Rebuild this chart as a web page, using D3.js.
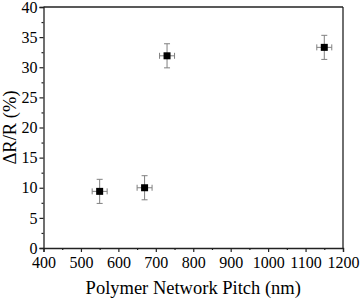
<!DOCTYPE html>
<html>
<head>
<meta charset="utf-8">
<script src="https://cdn.jsdelivr.net/npm/d3@7"></script>
<style>
  body { margin: 0; background: #fff; }
</style>
</head>
<body>
<div id="vis"></div>
<script>
// data
const pitch = [550, 670, 730, 1150];
const pitchErr = [20, 20, 20, 20];
const deltaR = [9.4, 10.0, 31.9, 33.3];
const deltaRErr = [2, 2, 2, 2];

const xTicks = [400, 500, 600, 700, 800, 900, 1000, 1100, 1200];
const yTicks = [0, 5, 10, 15, 20, 25, 30, 35, 40];

let points = pitch.map((p, i) => ({x: p, xe: pitchErr[i], y: deltaR[i], ye: deltaRErr[i]}));

let margin = {top: 7, right: 17, bottom: 53, left: 43.5};
let width = 360 - margin.left - margin.right,
    height = 301 - margin.top - margin.bottom;

let svg = d3.select('#vis')
    .append('svg')
    .attr('width', 360)
    .attr('height', 301);

let g = svg.append('g')
    .attr('transform', 'translate(' + margin.left + ',' + margin.top + ')');

let xScale = d3.scaleLinear().domain([400, 1200]).range([0, width]);
let yScale = d3.scaleLinear().domain([0, 40]).range([height, 0]);

// minor ticks half way
let xMinor = d3.range(450, 1200, 100);
let yMinor = d3.range(2.5, 40, 5);

g.append('g')
    .attr('transform', 'translate(0,' + height + ')')
    .call(d3.axisBottom(xScale).tickValues(xTicks).tickSize(4).tickPadding(4.5).tickFormat(d3.format('d')));
g.append('g')
    .attr('transform', 'translate(0,' + height + ')')
    .call(d3.axisBottom(xScale).tickValues(xMinor).tickSize(2).tickFormat(''))
    .select('.domain').remove();

g.append('g')
    .call(d3.axisLeft(yScale).tickValues(yTicks).tickSize(4).tickPadding(2));
g.append('g')
    .call(d3.axisLeft(yScale).tickValues(yMinor).tickSize(2).tickFormat(''))
    .select('.domain').remove();

g.selectAll('.tick text').style('font-size', '16px').attr('fill', '#000');
g.selectAll('.tick line').attr('stroke', '#222').attr('stroke-width', 1.2);
g.selectAll('.domain').attr('stroke', '#222').attr('stroke-width', 1.3);

// frame top and right
g.append('line').attr('x1', 0).attr('x2', width).attr('y1', 0).attr('y2', 0)
    .attr('stroke', '#222').attr('stroke-width', 1.3);
g.append('line').attr('x1', width).attr('x2', width).attr('y1', 0).attr('y2', height)
    .attr('stroke', '#222').attr('stroke-width', 1.3);

// error bars
let errColor = '#808080', cap = 3;
let pt = g.selectAll('g.pt')
    .data(points)
    .enter()
    .append('g')
    .attr('class', 'pt');

pt.append('line')
    .attr('x1', d => xScale(d.x)).attr('x2', d => xScale(d.x))
    .attr('y1', d => yScale(d.y - d.ye)).attr('y2', d => yScale(d.y + d.ye))
    .attr('stroke', errColor);
pt.append('line')
    .attr('x1', d => xScale(d.x - d.xe)).attr('x2', d => xScale(d.x + d.xe))
    .attr('y1', d => yScale(d.y)).attr('y2', d => yScale(d.y))
    .attr('stroke', errColor);
[-1, 1].forEach(s => {
    pt.append('line')
        .attr('x1', d => xScale(d.x) - cap).attr('x2', d => xScale(d.x) + cap)
        .attr('y1', d => yScale(d.y + s * d.ye)).attr('y2', d => yScale(d.y + s * d.ye))
        .attr('stroke', errColor);
    pt.append('line')
        .attr('x1', d => xScale(d.x + s * d.xe)).attr('x2', d => xScale(d.x + s * d.xe))
        .attr('y1', d => yScale(d.y) - cap).attr('y2', d => yScale(d.y) + cap)
        .attr('stroke', errColor);
});

let ms = 7;
pt.append('rect')
    .attr('x', d => xScale(d.x) - ms / 2)
    .attr('y', d => yScale(d.y) - ms / 2)
    .attr('width', ms).attr('height', ms)
    .attr('fill', '#000');

// axis titles
svg.append('text')
    .attr('x', margin.left + width / 2)
    .attr('y', 294)
    .attr('text-anchor', 'middle')
    .style('font-size', '18.5px')
    .text('Polymer Network Pitch (nm)');

svg.append('text')
    .attr('transform', 'translate(16,' + (margin.top + height / 2) + ') rotate(-90)')
    .attr('text-anchor', 'middle')
    .style('font-size', '18.5px')
    .text('ΔR/R (%)');

svg.selectAll('text').style('font-family', 'Liberation Serif');
</script>
</body>
</html>
